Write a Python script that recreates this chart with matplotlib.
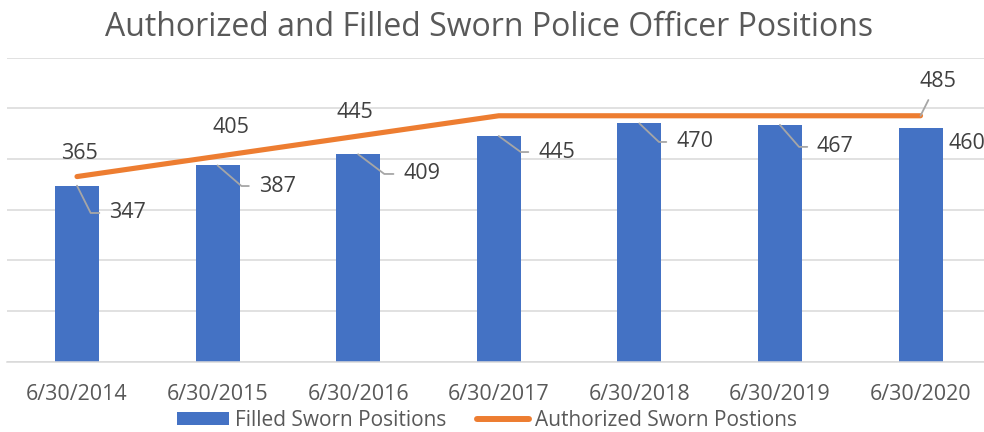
import matplotlib
matplotlib.use("Agg")
import matplotlib.pyplot as plt
from matplotlib.patches import Patch
from matplotlib.lines import Line2D

# ---- data ----
categories = ["6/30/2014", "6/30/2015", "6/30/2016", "6/30/2017",
              "6/30/2018", "6/30/2019", "6/30/2020"]
filled = [347, 387, 409, 445, 470, 467, 460]
authorized = [365, 405, 445, 485, 485, 485, 485]
title = "Authorized and Filled Sworn Police Officer Positions"
series_names = ["Filled Sworn Positions", "Authorized Sworn Postions"]

# ---- style ----
FONT = "Open Sans"
BLUE = "#4472C4"
ORANGE = "#ED7D31"
GRID = "#D9D9D9"
TXT = "#595959"
LBL = "#404040"
LEAD = "#A6A6A6"
FS = 15.5

plt.rcParams["font.family"] = [FONT, "DejaVu Sans"]

fig = plt.figure(figsize=(9.84, 4.32), dpi=100)
ax = fig.add_axes([6.7 / 984, 70.5 / 432, 984.1 / 984, 304 / 432])

x = list(range(len(categories)))
ax.bar(x, filled, width=0.313, color=BLUE, zorder=2)
ax.plot(x, authorized, color=ORANGE, lw=3.7, solid_capstyle="round", zorder=3)

ax.set_xlim(-0.5, len(categories) - 0.5)
ax.set_ylim(0, 600)
ax.set_yticks(range(0, 601, 100))
ax.yaxis.grid(True, color=GRID, lw=1.1, zorder=0)
ax.set_axisbelow(True)
for s in ["top", "right", "left"]:
    ax.spines[s].set_visible(False)
ax.spines["bottom"].set_color(GRID)
ax.spines["bottom"].set_linewidth(1.1)
ax.tick_params(axis="y", left=False, labelleft=False)
ax.tick_params(axis="x", length=0, pad=16, labelsize=FS, labelcolor=TXT)
ax.set_xticks(x)
ax.set_xticklabels(categories)

# bar labels: (dx, dy) offset in pixels, leader angle (None = no leader)
bar_off = [(50.5, -27.3), (59.5, -20.6), (63.5, -19.7), (57.7, -16.0),
           (55.2, -18.6), (55.5, -22.0), (46.2, -14.6)]
bar_ang = [-63.4, -40.8, -37.0, -36.0, -43.5, -49.0, None]
for i, v in enumerate(filled):
    dx, dy = bar_off[i]
    kw = {}
    if bar_ang[i] is not None:
        kw["arrowprops"] = dict(arrowstyle="-", color=LEAD, lw=1.3,
                                shrinkA=5, shrinkB=0,
                                connectionstyle=f"angle,angleA=0,angleB={bar_ang[i]},rad=0")
    ax.annotate(str(v), xy=(i, v), xytext=(dx, dy), textcoords="offset pixels",
                ha="center", va="center", fontsize=FS, color=LBL,
                annotation_clip=False, zorder=4, **kw)

# line labels (only some shown)
line_lbl = {0: (2, 23.5), 1: (13, 29), 2: (-3.5, 24), 6: (17, 34)}
for i, (dx, dy) in line_lbl.items():
    kw = {}
    if i == 6:
        kw["arrowprops"] = dict(arrowstyle="-", color=LEAD, lw=1.3,
                                shrinkA=4, shrinkB=0)
    ax.annotate(str(authorized[i]), xy=(i, authorized[i]), xytext=(dx, dy),
                textcoords="offset pixels", ha="center", va="center",
                fontsize=FS, color=LBL, annotation_clip=False, zorder=4, **kw)

fig.text(489 / 984, 1 - 27 / 432, title, ha="center", va="center",
         fontsize=23, color=TXT)

handles = [Patch(facecolor=BLUE, edgecolor="none"),
           Line2D([0], [0], color=ORANGE, lw=4.3, solid_capstyle="round")]
leg = fig.legend(handles, series_names, loc="center",
                 bbox_to_anchor=(487 / 984, 1 - 420.5 / 432),
                 ncol=2, frameon=False, fontsize=15, handlelength=2.5,
                 handleheight=0.62, handletextpad=0.25, columnspacing=1.5,
                 borderaxespad=0, borderpad=0)
for t in leg.get_texts():
    t.set_color(TXT)

fig.savefig("out.png", dpi=100)
